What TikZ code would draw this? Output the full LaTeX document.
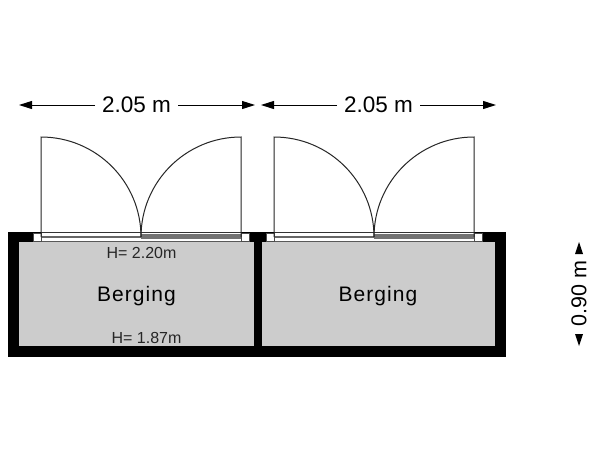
\documentclass[tikz,border=0pt]{standalone}
\usepackage{fontspec}
\setmainfont{Liberation Sans}
\usetikzlibrary{arrows.meta}
\tikzset{
  x=1pt,y=-1pt,
  wall/.style={fill=black,draw=none},
  room/.style={fill=black!20,draw=none},
  swing/.style={draw=black!85,line width=1pt},
  jamb/.style={fill=white,draw=black!70,line width=0.4pt},
  dim/.style={draw=black,line width=1pt},
  tip/.style={-{Triangle[length=13pt,width=8pt]}},
  dimtext/.style={font=\fontsize{22.5}{24}\selectfont,inner sep=0pt},
  vdimtext/.style={font=\fontsize{21.5}{24}\selectfont,inner sep=0pt,rotate=90},
  roomtext/.style={font=\fontsize{21}{24}\selectfont\addfontfeature{LetterSpace=5},inner sep=0pt},
  htext/.style={font=\fontsize{16}{18}\selectfont,inner sep=0pt,text=black!85},
}
\begin{document}
\begin{tikzpicture}
\useasboundingbox (0,0) rectangle (600,450);
\fill[white] (0,0) rectangle (600,450);
% walls and rooms
\fill[wall] (8,231.5) rectangle (506,357);
\fill[room] (19,242) rectangle (254,346);
\fill[room] (262,242) rectangle (495,346);
% door bands
\foreach \a/\m/\b in {41/141/241,274/374/474}{
  \fill[white] (\a,232.5) rectangle (\b,242);
  \fill[black!55] (\m,234) rectangle (\b,238.5);
  \fill[black!60] (\a,235.5) rectangle (\m,238);
  \draw[black!80,line width=1pt] (\a,232.8) -- (\b,232.8);
  \draw[black!65,line width=1pt] (\a,241.3) -- (\b,241.3);
}
% jambs
\foreach \x in {33,241,266,474}{
  \draw[jamb] (\x,233) rectangle (\x+8,241.5);
}
% door swings
\draw[swing] (41,237) -- (41,137) arc[start angle=-90,end angle=0,radius=100];
\draw[swing] (241,237) -- (241,137) arc[start angle=-90,end angle=-180,radius=100];
\draw[swing] (274,237) -- (274,137) arc[start angle=-90,end angle=0,radius=100];
\draw[swing] (474,237) -- (474,137) arc[start angle=-90,end angle=-180,radius=100];
% dimensions
\node[dimtext] (d1) at (136.5,105) {2.05 m};
\node[dimtext] (d2) at (378.5,105) {2.05 m};
\coordinate (d1l) at (19,105);
\coordinate (d1r) at (255,105);
\coordinate (d2l) at (261,105);
\coordinate (d2r) at (496,105);
\draw[dim,tip] (95,105) -- (d1l);
\draw[dim,tip] (178,105) -- (d1r);
\draw[dim,tip] (337,105) -- (d2l);
\draw[dim,tip] (420,105) -- (d2r);
\node[vdimtext] (d3) at (579,293.5) {0.90 m};
\fill (579,242) -- (583,254) -- (575,254) -- cycle;
\fill (579,346) -- (583,334) -- (575,334) -- cycle;
% labels
\node[roomtext] (b1) at (136.5,296) {Berging};
\node[roomtext] (b2) at (378,296) {Berging};
\node[htext] (h1) at (141.5,252.5) {H= 2.20m};
\node[htext] (h2) at (146.5,337.5) {H= 1.87m};
\end{tikzpicture}
\end{document}
